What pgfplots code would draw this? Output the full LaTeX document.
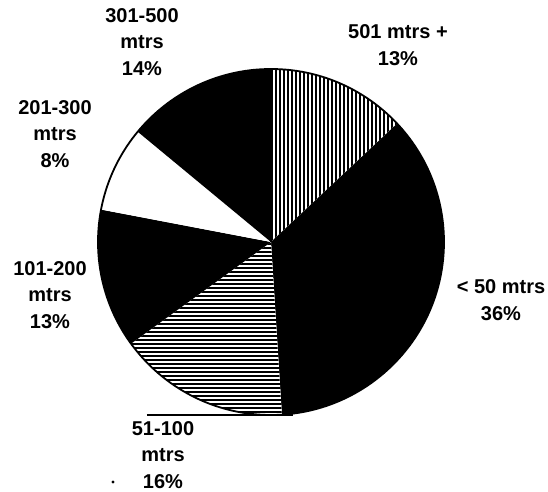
\documentclass[border=0pt]{standalone}
\usepackage{pgfplots}
\pgfplotsset{compat=1.18}
\usepackage{fontspec}
\setmainfont{Liberation Sans}
\usetikzlibrary{patterns.meta}
\tikzset{lbl/.style={align=center, font=\bfseries\fontsize{10}{13.2}\selectfont, inner sep=0pt}}
\newcommand{\slice}[3]{%
  \fill[#3] (axis cs:271,242) -- ++({90-#1*3.6}:86.5pt) arc[start angle={90-#1*3.6}, end angle={90-#2*3.6}, radius=86.5pt] -- cycle;}
\begin{document}
\begin{tikzpicture}
\begin{axis}[
  scale only axis, width=274pt, height=246pt,
  xmin=0, xmax=548, ymin=0, ymax=492, y dir=reverse,
  hide axis, clip=false,
]
% cumulative percentages: 501+ 13, <50 36, 51-100 16, 101-200 13, 201-300 8, 301-500 14
\slice{0}{13}{preaction={fill=white}, pattern={Lines[angle=90,distance=2pt,line width=1pt]}}
\slice{13}{49}{black}
\slice{49}{65}{preaction={fill=white}, pattern={Lines[angle=0,distance=2pt,line width=1pt]}}
\slice{65}{78}{black}
\slice{78}{86}{white}
\slice{86}{100}{black}
\draw[line width=0.9pt] (axis cs:271,242) -- ++(90:86.5pt);
\draw[line width=0.9pt] (axis cs:271,242) circle[radius=86.5pt];
\draw[line width=0.8pt] (axis cs:147,415) -- (axis cs:293,415);
\fill (axis cs:113,482) circle[radius=0.8pt];
\node[lbl] at (axis cs:142,42) {301-500\\mtrs\\14\%};
\node[lbl] at (axis cs:398,45) {501 mtrs +\\13\%};
\node[lbl] at (axis cs:55,134) {201-300\\mtrs\\8\%};
\node[lbl] at (axis cs:50,295) {101-200\\mtrs\\13\%};
\node[lbl] at (axis cs:501,300) {< 50 mtrs\\36\%};
\node[lbl] at (axis cs:163,455) {51-100\\mtrs\\16\%};
\end{axis}
\pgfresetboundingbox
\path (0,0) rectangle (274pt,246pt);
\end{tikzpicture}
\end{document}
